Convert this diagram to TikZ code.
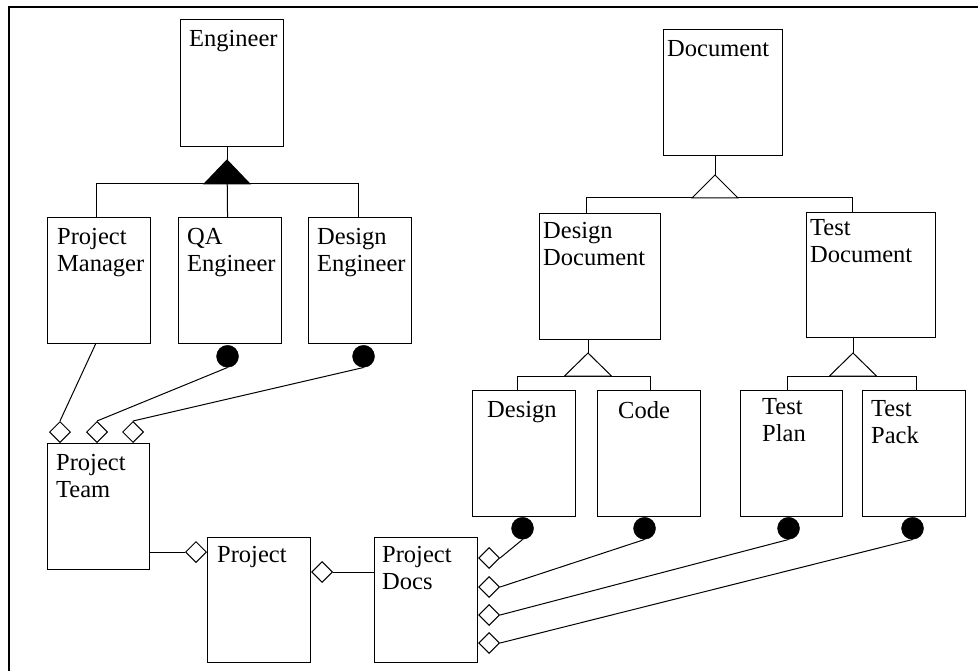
\documentclass[tikz,border=0pt]{standalone}
\usepackage{fontspec}
\setmainfont{Liberation Serif}
\usetikzlibrary{shapes.geometric,calc}
\tikzset{
  box/.style={draw, line width=1.1pt, fill=white, inner sep=0pt, anchor=north west, rectangle},
  lbl/.style={inner sep=0pt, anchor=north west, align=left, font=\fontsize{24.5}{26.5}\selectfont},
  circ/.style={circle, fill=black, draw=black, minimum size=22pt, inner sep=0pt, anchor=north},
  dia/.style={diamond, draw, line width=1pt, fill=white, inner sep=0pt, minimum width=21pt, minimum height=21pt},
  conn/.style={line width=1pt},
  frame/.style={line width=2.4pt}
}
\begin{document}
\begin{tikzpicture}[x=1pt,y=-1pt]
\useasboundingbox (0,0) rectangle (978,671);
% frame
\draw[frame] (9,671) -- (9,7) -- (978,7);

% boxes
\node[box, minimum width=103pt, minimum height=127pt] (eng) at (180,19) {};
\node[box, minimum width=103pt, minimum height=126pt] (pm) at (47,217) {};
\node[box, minimum width=103pt, minimum height=126pt] (qa) at (178,217) {};
\node[box, minimum width=103pt, minimum height=126pt] (de) at (308,217) {};
\node[box, minimum width=102pt, minimum height=126pt] (pt) at (47,443) {};
\node[box, minimum width=103pt, minimum height=125pt] (proj) at (207,537) {};
\node[box, minimum width=103pt, minimum height=125pt] (pd) at (374,537) {};
\node[box, minimum width=119pt, minimum height=126pt] (doc) at (663,29) {};
\node[box, minimum width=121pt, minimum height=126pt] (dd) at (539,213) {};
\node[box, minimum width=129pt, minimum height=125pt] (td) at (806,212) {};
\node[box, minimum width=103pt, minimum height=126pt] (des) at (472,390) {};
\node[box, minimum width=103pt, minimum height=126pt] (code) at (597,390) {};
\node[box, minimum width=102pt, minimum height=126pt] (tp) at (740,390) {};
\node[box, minimum width=103pt, minimum height=126pt] (tpk) at (862,390) {};

% labels
\node[lbl] (leng) at ($(eng.north west)+(9,11.5)$) {Engineer};
\node[lbl] (lpm) at ($(pm.north west)+(10,11.5)$) {Project\\Manager};
\node[lbl] (lqa) at ($(qa.north west)+(9,11.5)$) {QA\\Engineer};
\node[lbl] (lde) at ($(de.north west)+(9,11.5)$) {Design\\Engineer};
\node[lbl] (lpt) at ($(pt.north west)+(9,11.5)$) {Project\\Team};
\node[lbl] (lproj) at ($(proj.north west)+(10,9.5)$) {Project};
\node[lbl] (lpd) at ($(pd.north west)+(8,9.5)$) {Project\\Docs};
\node[lbl] (ldoc) at ($(doc.north west)+(4,11.5)$) {Document};
\node[lbl] (ldd) at ($(dd.north west)+(4,9.5)$) {Design\\Document};
\node[lbl] (ltd) at ($(td.north west)+(4,7.5)$) {Test\\Document};
\node[lbl] (ldes) at ($(des.north west)+(15,11.5)$) {Design};
\node[lbl] (lcode) at ($(code.north west)+(21,11.5)$) {Code};
\node[lbl] (ltp) at ($(tp.north west)+(22,8.5)$) {Test\\Plan};
\node[lbl] (ltpk) at ($(tpk.north west)+(9,10.5)$) {Test\\Pack};

% generalisation apexes
\coordinate (t1) at (227,160);
\coordinate (t2) at (715,175);
\coordinate (t3) at (588,353);
\coordinate (t4) at (853,353);

% Engineer hierarchy
\draw[conn] (t1 |- eng.south) -- (t1);
\draw[conn] ($(pm.north)+(-2.5,0)$) -- ++(0,-33) -| ($(de.north)+(-1.5,0)$);
\draw[conn] ($(qa.north)+(-2.5,0)$) -- (t1);
\draw[conn, fill=black] (t1) -- ++(-23,24) -- ++(46,0) -- cycle;

% Document hierarchy
\draw[conn] (t2 |- doc.south) -- (t2);
\draw[conn] ($(dd.north)+(-13.5,0)$) -- ++(0,-15) -| ($(td.north)+(-18.5,0)$);
\draw[conn, fill=white] (t2) -- ++(-23,23) -- ++(46,0) -- cycle;

\draw[conn] (t3 |- dd.south) -- (t3);
\draw[conn] ($(des.north)+(-6.5,0)$) -- ++(0,-14) -| ($(code.north)+(1.5,0)$);
\draw[conn, fill=white] (t3) -- ++(-23.5,23) -- ++(47,0) -- cycle;

\draw[conn] (t4 |- td.south) -- (t4);
\draw[conn] ($(tp.north)+(-4,0)$) -- ++(0,-14) -| ($(tpk.north)+(2.5,0)$);
\draw[conn, fill=white] (t4) -- ++(-23.5,23) -- ++(47,0) -- cycle;

% filled circles
\node[circ] (cqa) at ($(qa.south)+(-2.5,1)$) {};
\node[circ] (cde) at ($(de.south)+(3.5,1)$) {};
\node[circ] (cdes) at ($(des.south)+(-1.5,0)$) {};
\node[circ] (ccode) at ($(code.south)+(-4.5,0)$) {};
\node[circ] (ctp) at ($(tp.south)+(-3,0)$) {};
\node[circ] (ctpk) at ($(tpk.south)+(-1.5,0)$) {};

% diamonds
\node[dia, anchor=south] (d1) at ($(pt.north west)+(13,0)$) {};
\node[dia, anchor=south] (d2) at ($(pt.north west)+(50,0)$) {};
\node[dia, anchor=south] (d3) at ($(pt.north west)+(86,0)$) {};
\node[dia, anchor=east] (pdl) at ($(proj.north west)+(0,15)$) {};
\node[dia, anchor=west] (pdr) at ($(proj.north east)+(0,35)$) {};
\node[dia, anchor=west] (e1) at ($(pd.north east)+(0,21)$) {};
\node[dia, anchor=west] (e2) at ($(pd.north east)+(0,50)$) {};
\node[dia, anchor=west] (e3) at ($(pd.north east)+(0,78)$) {};
\node[dia, anchor=west] (e4) at ($(pd.north east)+(0,106)$) {};

% associations
\draw[conn] ($(pm.south)+(-3.5,0)$) -- (d1.north);
\draw[conn] (cqa.south) -- (d2.north);
\draw[conn] (cde.south) -- (d3.north);
\draw[conn] (pdl.west -| pt.east) -- (pdl.west);
\draw[conn] (pdr.east) -- (pdr.east -| pd.west);
\draw[conn] (e1.east) -- (cdes.south);
\draw[conn] (e2.east) -- (ccode.south);
\draw[conn] (e3.east) -- (ctp.south);
\draw[conn] (e4.east) -- (ctpk.south);
\end{tikzpicture}
\end{document}
